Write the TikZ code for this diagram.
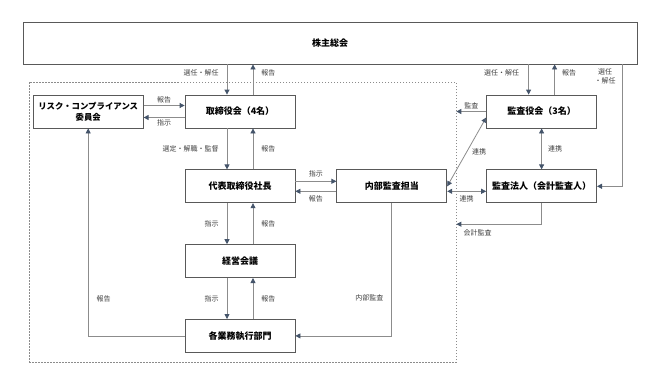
\documentclass[tikz,border=0pt]{standalone}
\usepackage{fontspec}
\setmainfont{Noto Sans CJK JP}
\usepackage{tikz}
\usetikzlibrary{arrows.meta,positioning}
\definecolor{linegray}{HTML}{8C8C8C}
\definecolor{tipslate}{HTML}{44546A}
\definecolor{boxline}{HTML}{595959}
\definecolor{lbltext}{HTML}{404040}
\begin{document}
\begin{tikzpicture}[
    x=1pt, y=-1pt,
    node distance=41pt and 41pt,
    box/.style={rectangle, draw=boxline, line width=0.8pt, fill=white, align=center, minimum width=110pt, minimum height=33pt, inner sep=1pt, font=\fontsize{9}{11}\selectfont\bfseries},
    topbox/.style={box, minimum width=614pt, minimum height=42pt},
    group/.style={rectangle, draw=linegray, line width=0.7pt, dash pattern=on 1.5pt off 1.5pt, minimum width=427pt, minimum height=280pt, inner sep=0pt},
    lbl/.style={font=\fontsize{7}{8.5}\selectfont, text=lbltext, inner sep=2pt},
    arrow/.style={-{Triangle[length=5pt, width=5pt, color=tipslate]}, line width=0.8pt, draw=linegray},
    dblarrow/.style={{Triangle[length=5pt, width=5pt, color=tipslate]}-{Triangle[length=5pt, width=5pt, color=tipslate]}, line width=0.8pt, draw=linegray}
]
\useasboundingbox (0,0) rectangle (647,383);
\node[group] (exec) at (242.5,222) {};
\node[topbox] (gm) at (330,43) {株主総会};
\node[box] (board) at (240,111.5) {取締役会（4名）};
\node[box, left=of board, font=\fontsize{8.4}{11}\selectfont\bfseries] (risk) {リスク・コンプライアンス\\委員会};
\node[box, below=of board] (pres) {代表取締役社長};
\node[box, below=of pres] (mtg) {経営会議};
\node[box, below=of mtg] (dept) {各業務執行部門};
\node[box, right=of pres] (ia) {内部監査担当};
\node[box, right=39pt of ia] (cpa) {監査法人（会計監査人）};
\node[box, above=of cpa] (kansa) {監査役会（3名）};
\coordinate[below=21pt of cpa.south] (cpaout);
\draw[arrow] ([xshift=-13pt]board.north |- gm.south) -- node[lbl, left=6pt, pos=0.29] {選任・解任} ([xshift=-13pt]board.north);
\draw[arrow] ([xshift=13pt]board.north) -- node[lbl, right=6pt, pos=0.71] {報告} ([xshift=13pt]board.north |- gm.south);
\draw[arrow] ([xshift=-13pt]kansa.north |- gm.south) -- node[lbl, left=7pt, pos=0.29] {選任・解任} ([xshift=-13pt]kansa.north);
\draw[arrow] ([xshift=13pt]kansa.north) -- node[lbl, right=5pt, pos=0.71] {報告} ([xshift=13pt]kansa.north |- gm.south);
\draw[arrow] ([xshift=25pt]cpa.east |- gm.south) |- node[lbl, left=4pt, pos=0.05, align=center] {選任\\・解任} (cpa.east);
\draw[arrow] ([yshift=6pt]risk.east) -- node[lbl, above] {報告} ([yshift=6pt]board.west);
\draw[arrow] ([yshift=-6pt]board.west) -- node[lbl, below] {指示} ([yshift=-6pt]risk.east);
\draw[arrow] ([xshift=-13pt]board.south) -- node[lbl, left=6pt] {選定・解職・監督} ([xshift=-13pt]pres.north);
\draw[arrow] ([xshift=13pt]pres.north) -- node[lbl, right=6pt] {報告} ([xshift=13pt]board.south);
\draw[arrow] ([xshift=-13pt]pres.south) -- node[lbl, left=6pt] {指示} ([xshift=-13pt]mtg.north);
\draw[arrow] ([xshift=13pt]mtg.north) -- node[lbl, right=6pt] {報告} ([xshift=13pt]pres.south);
\draw[arrow] ([xshift=-13pt]mtg.south) -- node[lbl, left=6pt] {指示} ([xshift=-13pt]dept.north);
\draw[arrow] ([xshift=13pt]dept.north) -- node[lbl, right=6pt] {報告} ([xshift=13pt]mtg.south);
\draw[arrow] ([yshift=5pt]pres.east) -- node[lbl, above=2pt] {指示} ([yshift=5pt]ia.west);
\draw[arrow] ([yshift=-5pt]ia.west) -- node[lbl, below=2pt] {報告} ([yshift=-5pt]pres.east);
\draw[arrow] (kansa.west) -- node[lbl, above] {監査} (kansa.west -| exec.east);
\draw[dblarrow] ([yshift=-6pt]kansa.west) -- node[lbl, right=3pt] {連携} (ia.east);
\draw[dblarrow] (kansa.south) -- node[lbl, right=4pt] {連携} (cpa.north);
\draw[dblarrow] ([yshift=-5pt]ia.east) -- node[lbl, below=2pt] {連携} ([yshift=-5pt]cpa.west);
\draw[arrow] (cpa.south) -- (cpaout) -- node[lbl, below=3pt, pos=0.75] {会計監査} (cpaout -| exec.east);
\draw[arrow] (dept.west) -| node[lbl, right=6pt, pos=0.59] {報告} (risk.south);
\draw[arrow] (ia.south) |- node[lbl, left=6pt, pos=0.355] {内部監査} (dept.east);
\end{tikzpicture}
\end{document}
